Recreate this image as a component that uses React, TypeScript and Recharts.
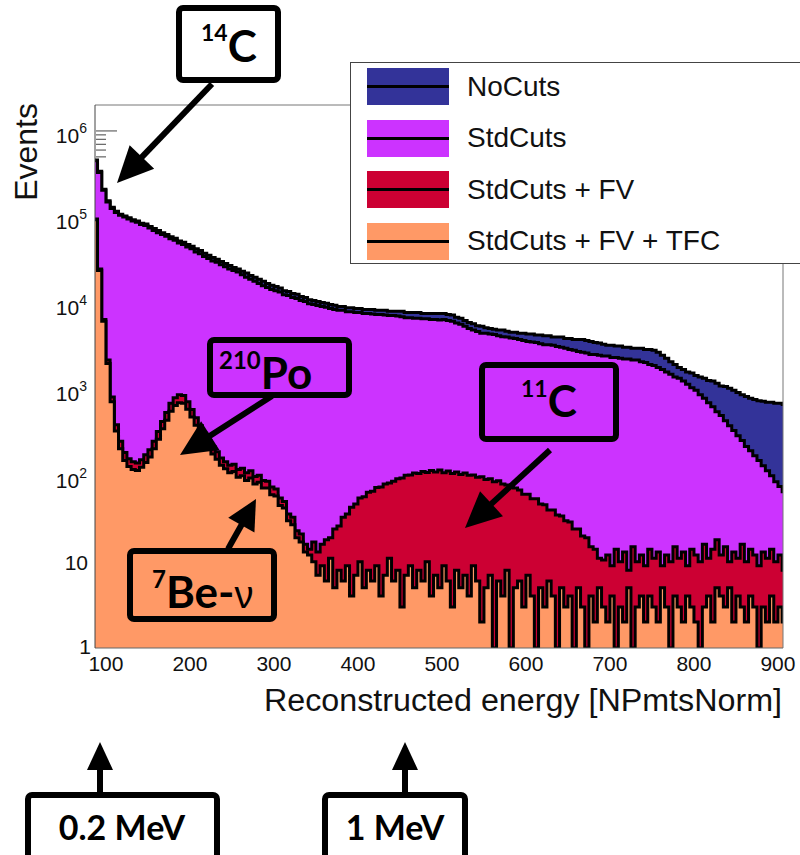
import React from 'react';
import { AreaChart, Area, XAxis, YAxis, ReferenceLine } from 'recharts';

// lower edges of the 5-unit bins (first bin starts at the frame edge)
const binLow: number[] = [87, ...Array.from({ length: 164 }, (_, i) => 90 + 5 * i)];
const lastEdge = 906;

const xTicks = [100, 200, 300, 400, 500, 600, 700, 800, 900];
const yTicks = [1, 10, 100, 1000, 10000, 100000, 500000, 600000, 700000, 800000, 900000, 1000000];

// counts per bin (bin 87, then 90..905 in rows of 10)
const noCuts = [
  460000,
  340000, 210000, 155000, 130000, 117000, 108000, 103000, 98000, 93000, 90000,
  85000, 83000, 78000, 74000, 70000, 66000, 63000, 59000, 57000, 53000,
  51000, 48000, 46000, 43000, 41000, 38000, 36000, 34000, 32500, 30500,
  29000, 27500, 26000, 25000, 23500, 22500, 21000, 20000, 19000, 18000,
  17000, 16200, 15700, 15000, 14000, 13700, 13000, 12700, 12000, 11700,
  11000, 10800, 10500, 10200, 10000, 9700, 9500, 9200, 9200, 8900,
  8900, 8700, 8700, 8500, 8500, 8500, 8300, 8300, 8300, 8100,
  8100, 8100, 8100, 7800, 7800, 7800, 7800, 7600, 7600, 7600,
  7600, 7600, 7600, 7400, 7300, 6900, 6700, 6300, 6000, 5800,
  5500, 5400, 5200, 5100, 5000, 4900, 4900, 4750, 4600, 4600,
  4500, 4500, 4400, 4400, 4300, 4300, 4200, 4200, 4050, 4050,
  4050, 3900, 3900, 3800, 3800, 3800, 3700, 3600, 3500, 3450,
  3350, 3250, 3250, 3200, 3200, 3100, 3100, 3000, 3000, 3000,
  2900, 2900, 2850, 2700, 2500, 2300, 2100, 1950, 1800, 1700,
  1600, 1550, 1450, 1400, 1350, 1270, 1250, 1180, 1100, 1080,
  1030, 980, 920, 870, 830, 790, 765, 740, 730, 710,
  710, 690, 690, 670,
];

const stdCuts = [
  450000,
  330000, 205000, 150000, 126000, 113000, 105000, 100000, 95000, 90000, 87000,
  82000, 80000, 75000, 70000, 66000, 63000, 60000, 56000, 54000, 50000,
  48000, 45000, 43000, 39500, 37500, 35000, 33000, 31000, 30000, 28000,
  26500, 25000, 24000, 23000, 21500, 20000, 19000, 18000, 17000, 16000,
  15300, 14500, 14000, 13500, 12600, 12300, 11700, 11400, 10800, 10500,
  9900, 9700, 9400, 9200, 9000, 8700, 8500, 8300, 8300, 8000,
  8000, 7800, 7800, 7600, 7600, 7500, 7400, 7400, 7300, 7200,
  7200, 7100, 7000, 6800, 6800, 6700, 6700, 6600, 6600, 6500,
  6500, 6400, 6500, 6300, 6200, 5900, 5700, 5400, 5100, 4900,
  4700, 4500, 4480, 4400, 4350, 4200, 4100, 4050, 3950, 3900,
  3800, 3700, 3600, 3550, 3500, 3400, 3300, 3300, 3250, 3150,
  3100, 3000, 2900, 2850, 2750, 2700, 2650, 2550, 2550, 2500,
  2450, 2450, 2350, 2350, 2300, 2250, 2250, 2200, 2200, 2100,
  2050, 1950, 1900, 1800, 1700, 1600, 1500, 1400, 1350, 1250,
  1150, 1050, 980, 870, 790, 700, 630, 550, 500, 435,
  380, 335, 290, 255, 218, 195, 170, 150, 130, 114,
  100, 85, 75, 65,
];

const stdCutsFv = [
  95000,
  25000, 6500, 2200, 820, 390, 250, 185, 157, 145, 140,
  153, 175, 200, 250, 325, 425, 540, 690, 800, 870,
  850, 720, 585, 470, 380, 310, 255, 217, 190, 160,
  145, 132, 136, 118, 122, 108, 114, 98, 101, 88,
  86, 74, 70, 55, 50, 36, 33, 23, 21, 16,
  14, 17, 13, 16, 18, 19, 24, 26, 33, 36,
  43, 47, 55, 57, 64, 66, 73, 74, 80, 82,
  86, 92, 94, 101, 102, 107, 106, 112, 109, 115,
  110, 116, 108, 113, 106, 110, 103, 107, 101, 102,
  96, 97, 90, 92, 85, 87, 80, 78, 73, 72,
  68, 61, 61, 54, 54, 47, 46, 40, 40, 35,
  34, 30, 29, 24, 24, 20, 19, 15, 14, 11,
  10.5, 12, 9, 14, 10, 13, 8, 15, 10, 12,
  9, 14, 11, 13, 9, 12, 10, 15, 11, 13,
  9, 14, 12, 10, 16, 11, 14, 18, 12, 15,
  10, 13, 11, 16, 10, 14, 12, 9, 13, 11,
  14, 10, 12, 8,
];

const stdCutsFvTfc = [
  93000,
  24000, 6200, 2000, 720, 330, 205, 150, 128, 118, 115,
  125, 142, 165, 205, 265, 350, 440, 560, 650, 700,
  690, 590, 480, 385, 310, 255, 210, 178, 155, 132,
  120, 108, 112, 96, 100, 88, 94, 80, 84, 72,
  72, 60, 58, 45, 42, 30, 27, 19, 17, 13,
  12, 10, 7, 9, 6, 11, 5, 8, 6, 9,
  4, 7, 10, 5, 8, 6, 9, 4, 7, 11,
  6, 8, 3, 7, 9, 5, 8, 6, 10, 4,
  7, 5, 9, 6, 3, 8, 5, 7, 4, 9,
  6, 2, 5, 7, 1, 6, 4, 8, 1, 5,
  6, 3, 7, 4, 1, 5, 3, 6, 4, 1,
  5, 3, 4, 1, 5, 3, 1, 4, 2, 5,
  3, 2, 4, 1, 3, 2, 5, 1, 3, 4,
  2, 4, 3, 2, 5, 3, 1, 4, 3, 2,
  4, 3, 2, 1, 3, 4, 2, 5, 4, 3,
  5, 2, 4, 3, 2, 4, 3, 1, 3, 2,
  4, 2, 3, 2,
];

const series = [
  { key: 'noCuts', name: 'NoCuts', color: '#333399' },
  { key: 'stdCuts', name: 'StdCuts', color: '#cc33ff' },
  { key: 'stdCutsFv', name: 'StdCuts + FV', color: '#cc0033' },
  { key: 'stdCutsFvTfc', name: 'StdCuts + FV + TFC', color: '#ff9966' },
];

const rows = [...binLow, lastEdge].map((x, i) => {
  const k = Math.min(i, binLow.length - 1);
  return {
    x,
    noCuts: noCuts[k],
    stdCuts: stdCuts[k],
    stdCutsFv: stdCutsFv[k],
    stdCutsFvTfc: stdCutsFvTfc[k],
  };
});

const FONT = '"Liberation Sans", Arial, sans-serif';
const BOLD = 'Lato, "Open Sans", sans-serif';

const YTick = (props: any) => {
  const { y, payload } = props;
  const v = payload.value;
  const exp = Math.round(Math.log10(v));
  const major = Math.abs(Math.pow(10, exp) - v) < 1e-6;
  return (
    <g>
      {v >= 500000 && (
        <line x1={96} x2={major ? 117 : 106} y1={y} y2={y} stroke="#444" strokeWidth={1} />
      )}
      {major && exp >= 2 && (
        <text x={87} y={y + 12} textAnchor="end" fontFamily={FONT} fontSize={21} fill="#111">
          10
          <tspan dy={-10} fontSize={14}>{exp}</tspan>
        </text>
      )}
      {major && exp === 1 && (
        <text x={88} y={y + 8} textAnchor="end" fontFamily={FONT} fontSize={21} fill="#111">10</text>
      )}
      {major && exp === 0 && (
        <text x={91} y={y + 6} textAnchor="end" fontFamily={FONT} fontSize={21} fill="#111">1</text>
      )}
    </g>
  );
};

const XTick = (props: any) => {
  const { x, payload } = props;
  return (
    <text x={x} y={671} textAnchor="middle" fontFamily={FONT} fontSize={21} fill="#111">
      {payload.value}
    </text>
  );
};

const Arrow = ({ x1, y1, x2, y2, head = 36, half = 17, w = 6 }: any) => {
  const dx = x2 - x1;
  const dy = y2 - y1;
  const len = Math.hypot(dx, dy);
  const ux = dx / len;
  const uy = dy / len;
  const bx = x2 - ux * head;
  const by = y2 - uy * head;
  const px = -uy;
  const py = ux;
  return (
    <g>
      <line x1={x1} y1={y1} x2={bx + ux * 4} y2={by + uy * 4} stroke="#000" strokeWidth={w} />
      <polygon
        points={`${x2},${y2} ${bx + px * half},${by + py * half} ${bx - px * half},${by - py * half}`}
        fill="#000"
      />
    </g>
  );
};

const Box = ({ x, y, w, h, fill = 'none' }: any) => (
  <rect x={x} y={y} width={w} height={h} rx={4} fill={fill} stroke="#000" strokeWidth={6} />
);

const Annotations = () => (
  <svg
    width={800}
    height={855}
    style={{ position: 'absolute', left: 0, top: 0, pointerEvents: 'none' }}
  >
    {/* 14C */}
    <Box x={179} y={8} w={99} h={72} fill="#fff" />
    <text x={201} y={62} fontFamily={BOLD} fontWeight={700} fill="#000">
      <tspan fontSize={23} dy={-21}>14</tspan>
      <tspan fontSize={44} dy={21}>C</tspan>
    </text>
    <Arrow x1={212} y1={84} x2={117} y2={183} />

    {/* 210Po */}
    <Box x={210} y={340} w={139} h={55} />
    <text x={219} y={389} fontFamily={BOLD} fontWeight={700} fill="#000">
      <tspan fontSize={24} dy={-20}>210</tspan>
      <tspan fontSize={44} dy={20}>Po</tspan>
    </text>
    <Arrow x1={272} y1={396} x2={180} y2={455} />

    {/* 7Be-nu */}
    <Box x={130} y={551} w={144} h={68} />
    <text x={152} y={608} fontFamily={BOLD} fontWeight={700} fill="#000">
      <tspan fontSize={24} dy={-20}>7</tspan>
      <tspan fontSize={44} dy={20}>Be-</tspan>
      <tspan fontSize={38} fontWeight={400} fontFamily={FONT}>ν</tspan>
    </text>
    <Arrow x1={228} y1={549} x2={256} y2={499} head={30} half={15} />

    {/* 11C */}
    <Box x={482} y={365} w={134} h={74} />
    <text x={521} y={417} fontFamily={BOLD} fontWeight={700} fill="#000">
      <tspan fontSize={23} dy={-20}>11</tspan>
      <tspan fontSize={44} dy={20}>C</tspan>
    </text>
    <Arrow x1={550} y1={450} x2={465} y2={528} />

    {/* energy markers */}
    <Box x={28} y={795} w={189} h={80} fill="#fff" />
    <text x={122} y={840} textAnchor="middle" fontFamily={BOLD} fontWeight={700} fontSize={34} fill="#000">
      0.2 MeV
    </text>
    <Arrow x1={100} y1={796} x2={100} y2={742} head={28} half={13} />

    <Box x={325} y={795} w={140} h={80} fill="#fff" />
    <text x={395} y={840} textAnchor="middle" fontFamily={BOLD} fontWeight={700} fontSize={34} fill="#000">
      1 MeV
    </text>
    <Arrow x1={405} y1={796} x2={405} y2={742} head={28} half={13} />
  </svg>
);

const LegendBox = () => (
  <div
    style={{
      position: 'absolute',
      left: 350,
      top: 62,
      width: 470,
      height: 202,
      background: '#fff',
      border: '1.5px solid #444',
      boxSizing: 'border-box',
    }}
  >
    {series.map((s, i) => (
      <div
        key={s.key}
        style={{ position: 'absolute', left: 16, top: 5 + i * 51.5, height: 37, display: 'flex', alignItems: 'center' }}
      >
        <div style={{ width: 82, height: 37, background: s.color, position: 'relative' }}>
          <div style={{ position: 'absolute', left: 0, right: 0, top: 17, height: 3, background: '#000' }} />
        </div>
        <span style={{ marginLeft: 18, fontFamily: FONT, fontSize: 28, color: '#111', whiteSpace: 'nowrap' }}>
          {s.name}
        </span>
      </div>
    ))}
  </div>
);

export default function App() {
  return (
    <div style={{ position: 'absolute', left: 0, top: 0, width: 800, height: 855, overflow: 'hidden', background: '#fff' }}>
      <AreaChart width={800} height={855} data={rows} margin={{ top: 105, right: 17, bottom: 143, left: 0 }}>
        <XAxis
          dataKey="x"
          type="number"
          domain={[87, 906]}
          allowDataOverflow
          ticks={xTicks}
          interval={0}
          tickLine={false}
          axisLine={{ stroke: '#666' }}
          tick={XTick}
          height={64}
        />
        <YAxis
          type="number"
          scale="log"
          domain={[1, 2000000]}
          allowDataOverflow
          ticks={yTicks}
          interval={0}
          tickLine={false}
          axisLine={{ stroke: '#444' }}
          tick={YTick}
          width={95}
        />
        {series.map((s) => (
          <Area
            key={s.key}
            dataKey={s.key}
            name={s.name}
            type="stepAfter"
            baseValue={1}
            stroke="#000"
            strokeWidth={3}
            fill={s.color}
            fillOpacity={1}
            dot={false}
            activeDot={false}
            isAnimationActive={false}
          />
        ))}
        <ReferenceLine y={2000000} stroke="#777" />
        <ReferenceLine x={906} stroke="#777" />
      </AreaChart>
      <LegendBox />
      <svg width={800} height={855} style={{ position: 'absolute', left: 0, top: 0, pointerEvents: 'none' }}>
        <text
          x={37}
          y={103}
          transform="rotate(-90 37 103)"
          textAnchor="end"
          fontFamily={FONT}
          fontSize={32}
          fill="#111"
        >
          Events
        </text>
        <text
          x={782}
          y={711}
          textAnchor="end"
          fontFamily={FONT}
          fontSize={31}
          textLength={518}
          lengthAdjust="spacingAndGlyphs"
          fill="#111"
        >
          Reconstructed energy [NPmtsNorm]
        </text>
      </svg>
      <Annotations />
    </div>
  );
}
